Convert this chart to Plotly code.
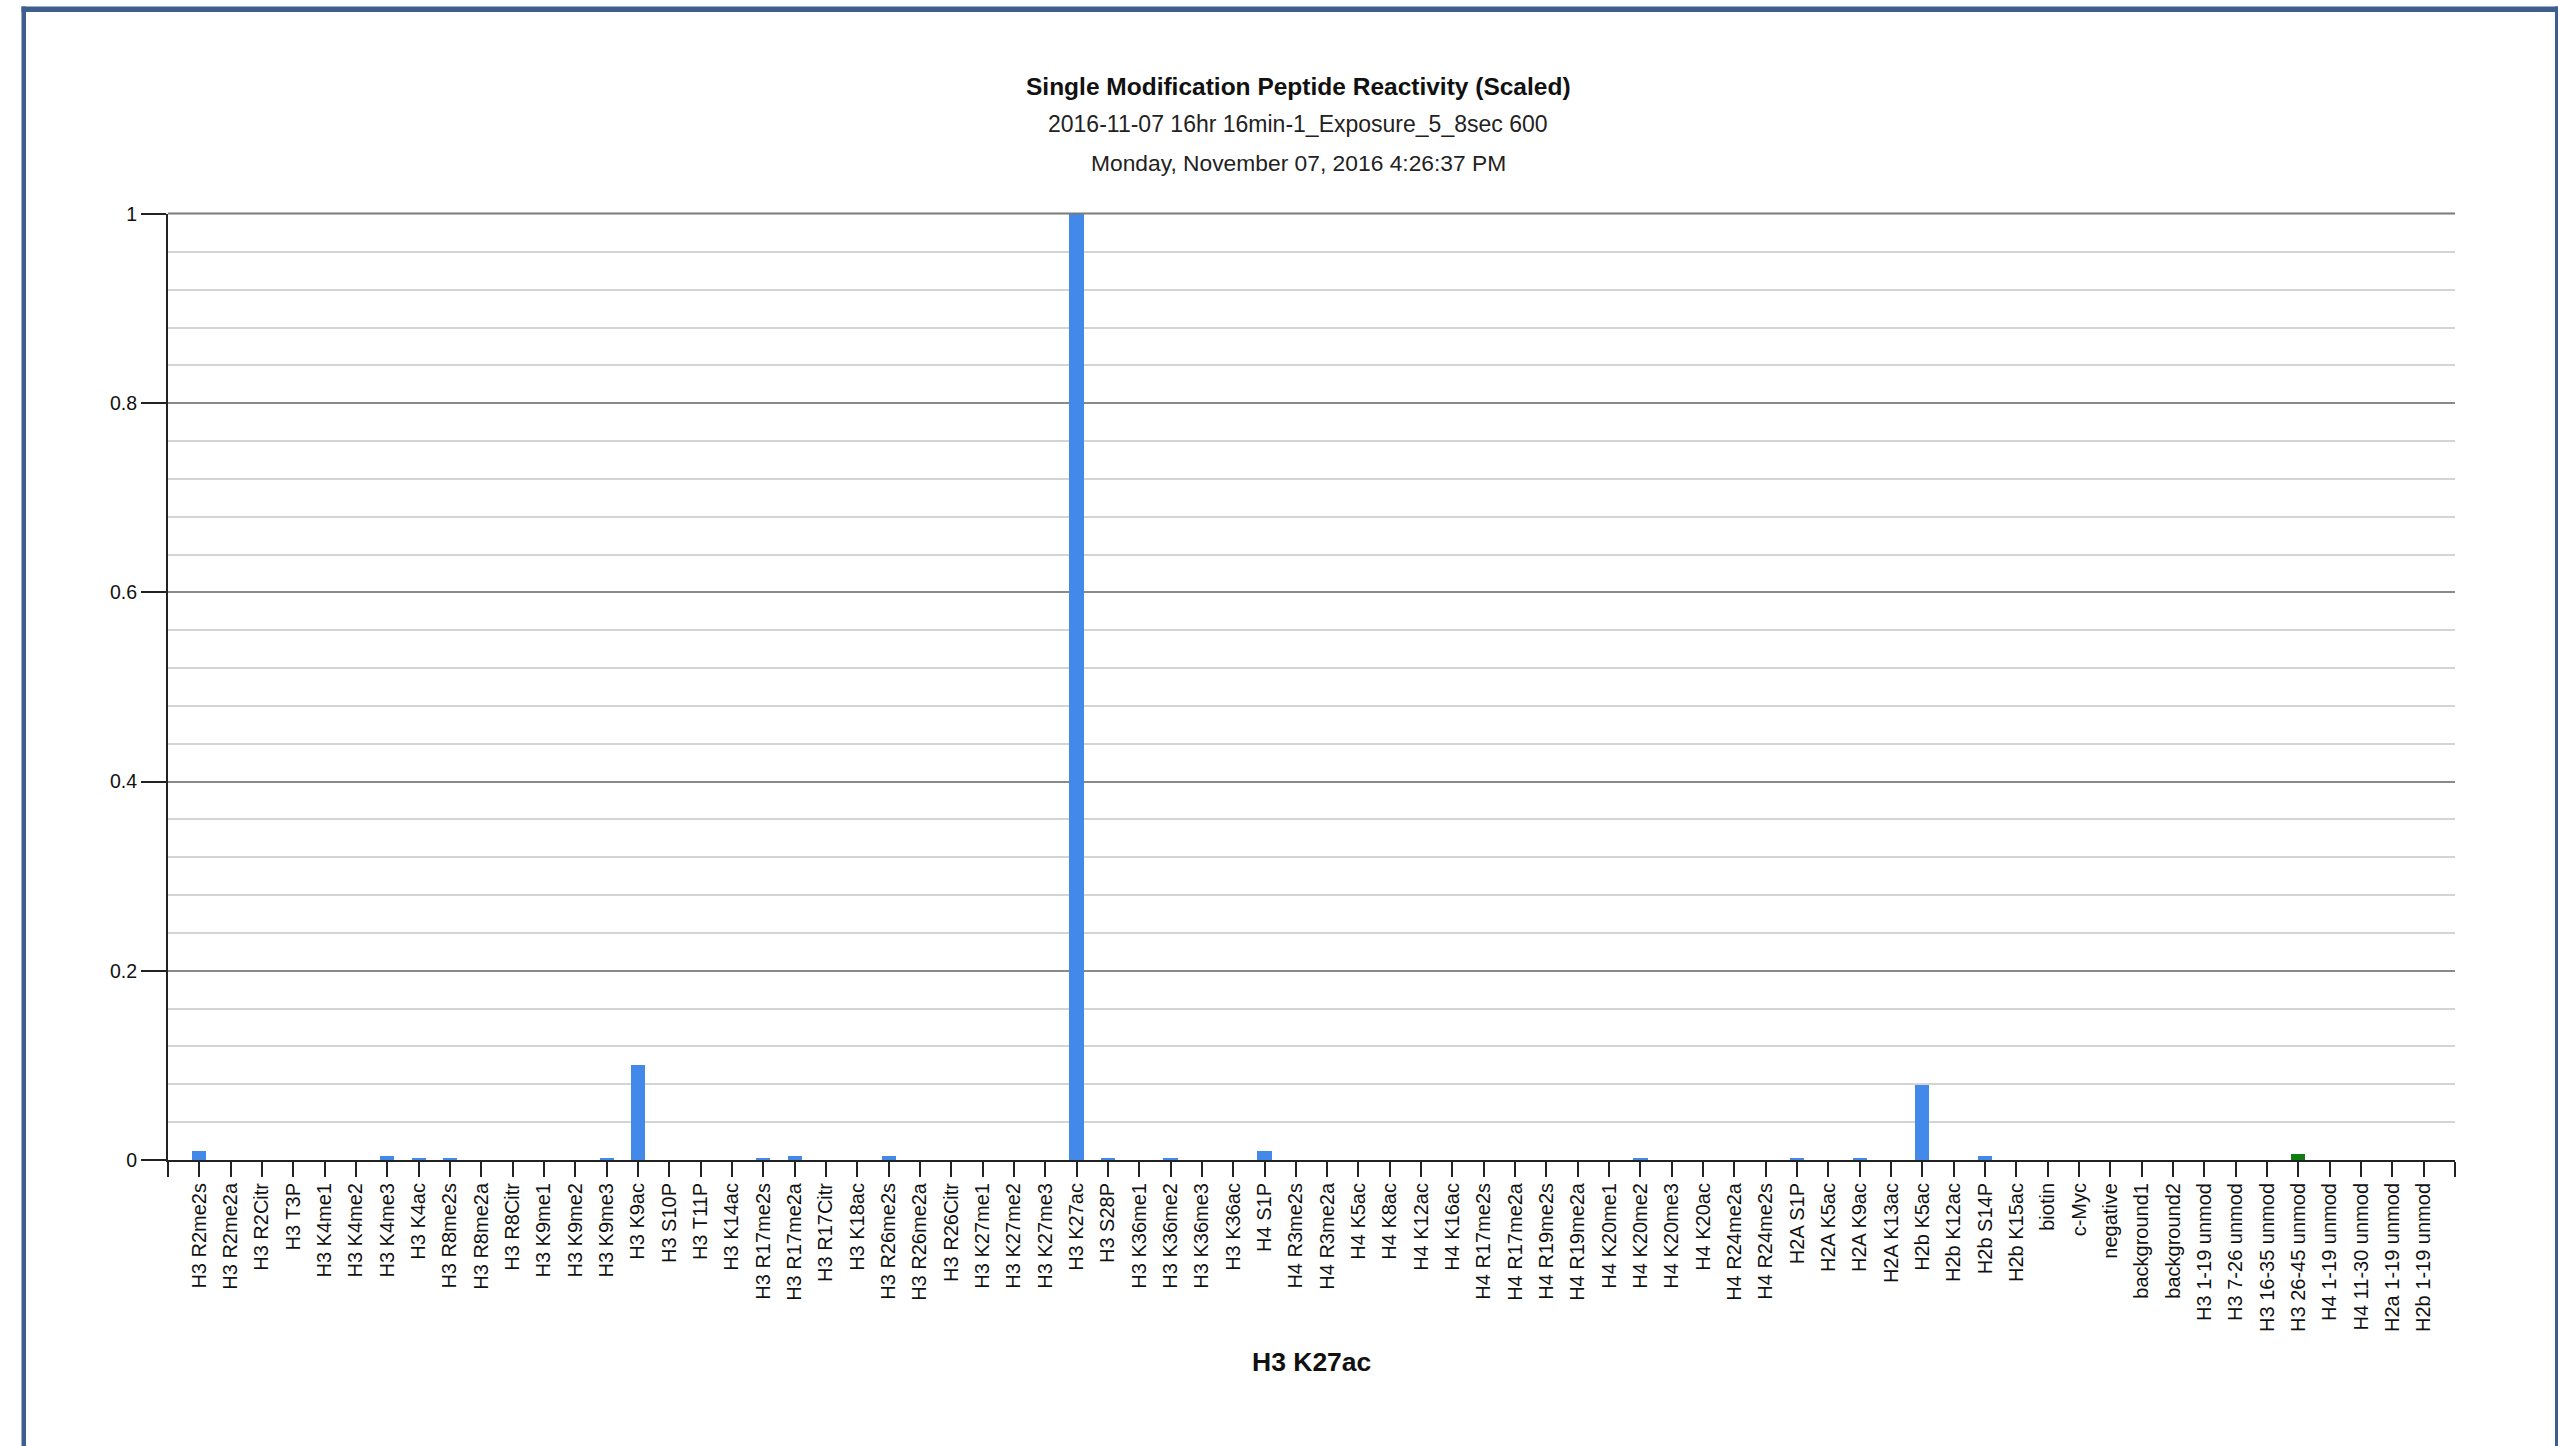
import plotly.graph_objects as go

categories = [
    "H3 R2me2s", "H3 R2me2a", "H3 R2Citr", "H3 T3P", "H3 K4me1", "H3 K4me2",
    "H3 K4me3", "H3 K4ac", "H3 R8me2s", "H3 R8me2a", "H3 R8Citr", "H3 K9me1",
    "H3 K9me2", "H3 K9me3", "H3 K9ac", "H3 S10P", "H3 T11P", "H3 K14ac",
    "H3 R17me2s", "H3 R17me2a", "H3 R17Citr", "H3 K18ac", "H3 R26me2s", "H3 R26me2a",
    "H3 R26Citr", "H3 K27me1", "H3 K27me2", "H3 K27me3", "H3 K27ac", "H3 S28P",
    "H3 K36me1", "H3 K36me2", "H3 K36me3", "H3 K36ac", "H4 S1P", "H4 R3me2s",
    "H4 R3me2a", "H4 K5ac", "H4 K8ac", "H4 K12ac", "H4 K16ac", "H4 R17me2s",
    "H4 R17me2a", "H4 R19me2s", "H4 R19me2a", "H4 K20me1", "H4 K20me2", "H4 K20me3",
    "H4 K20ac", "H4 R24me2a", "H4 R24me2s", "H2A S1P", "H2A K5ac", "H2A K9ac",
    "H2A K13ac", "H2b K5ac", "H2b K12ac", "H2b S14P", "H2b K15ac", "biotin",
    "c-Myc", "negative", "background1", "background2", "H3 1-19 unmod", "H3 7-26 unmod",
    "H3 16-35 unmod", "H3 26-45 unmod", "H4 1-19 unmod", "H4 11-30 unmod", "H2a 1-19 unmod", "H2b 1-19 unmod",
]

values = [
    0.010, 0.0, 0.0, 0.0, 0.0, 0.0,
    0.004, 0.002, 0.002, 0.0, 0.0, 0.0,
    0.0, 0.002, 0.100, 0.0, 0.0, 0.0,
    0.002, 0.004, 0.0, 0.0, 0.004, 0.0,
    0.0, 0.0, 0.0, 0.0, 1.000, 0.002,
    0.0, 0.002, 0.0, 0.0, 0.010, 0.0,
    0.0, 0.0, 0.0, 0.0, 0.0, 0.0,
    0.0, 0.0, 0.0, 0.0, 0.002, 0.0,
    0.0, 0.0, 0.0, 0.002, 0.0, 0.002,
    0.0, 0.079, 0.0, 0.004, 0.0, 0.0,
    0.0, 0.0, 0.0, 0.0, 0.0, 0.0,
    0.0, 0.006, 0.0, 0.0, 0.0, 0.0,
]

control_peptide = "H3 26-45 unmod"
y_ticks = [0, 0.2, 0.4, 0.6, 0.8, 1]

title_text = "Single Modification Peptide Reactivity (Scaled)"
subtitle_text = "2016-11-07 16hr 16min-1_Exposure_5_8sec 600"
date_text = "Monday, November 07, 2016 4:26:37 PM"
xaxis_title = "H3 K27ac"

BLUE = "#4289EA"
GREEN = "#0E7E12"
FRAME = "#3E5E8E"
MAJOR_GRID = "#8a8a8a"
FONT = "Liberation Sans, Arial, sans-serif"

W, H = 2558, 1446
L, R, T, B = 168, 2558 - 2455, 214, 1446 - 1160
PW, PH = W - L - R, H - T - B


def px_x(x):
    return (x - L) / PW


def px_y(y):
    return (H - B - y) / PH


idx = list(range(len(categories)))
colors = [GREEN if c == control_peptide else BLUE for c in categories]

fig = go.Figure()
fig.add_trace(go.Bar(
    x=idx, y=values, width=0.45,
    marker=dict(color=colors, line=dict(width=0)),
    hovertext=categories, showlegend=False,
))

tickvals = [-1] + idx + [len(categories)]
ticktext = [""] + categories + [""]

fig.update_layout(
    width=W, height=H,
    margin=dict(l=L, r=R, t=T, b=B, pad=0),
    paper_bgcolor="white", plot_bgcolor="white",
    font=dict(family=FONT, color="#111111", size=19),
    bargap=0,
    xaxis=dict(
        range=[-1, len(categories)],
        tickmode="array", tickvals=tickvals, ticktext=ticktext,
        tickangle=-90, tickfont=dict(size=20, color="#111111", family=FONT),
        ticks="outside", ticklen=15, tickwidth=2, tickcolor="#222222",
        ticklabelstandoff=-2,
        showline=True, linecolor="#222222", linewidth=2,
        showgrid=False, zeroline=False, fixedrange=True,
    ),
    yaxis=dict(
        range=[0, 1],
        tickmode="array", tickvals=y_ticks,
        tickfont=dict(size=19.5, color="#111111", family=FONT),
        ticks="outside", ticklen=25, tickwidth=1.5, tickcolor="#222222",
        showline=True, linecolor="#222222", linewidth=2,
        showgrid=True, gridcolor=MAJOR_GRID, gridwidth=1.5,
        zeroline=False,
        minor=dict(dtick=0.04, tick0=0, showgrid=True, gridcolor="#d4d4d4", gridwidth=1.5, ticks=""),
        fixedrange=True,
    ),
)

annotations = [
    dict(text="<b>" + title_text + "</b>", x=px_x(1298), y=px_y(86), font=dict(size=24.5, family=FONT, color="#111111")),
    dict(text=subtitle_text, x=px_x(1298), y=px_y(124), font=dict(size=23, family=FONT, color="#222222")),
    dict(text=date_text, x=px_x(1298), y=px_y(163), font=dict(size=22.8, family=FONT, color="#222222")),
    dict(text="<b>" + xaxis_title + "</b>", x=0.5, y=px_y(1362), font=dict(size=26.5, family=FONT, color="#111111")),
]
for a in annotations:
    a.update(xref="paper", yref="paper", xanchor="center", yanchor="middle", showarrow=False)
fig.update_layout(annotations=annotations)

# page frame (left, top, right borders)
frame = [
    (21.5, 6.5, 26, H + 5),
    (21.5, 6.5, W + 5, 12),
    (2555, 6.5, W + 5, H + 5),
]
shapes = [
    dict(type="rect", xref="paper", yref="paper",
         x0=px_x(x0), x1=px_x(x1), y0=px_y(y1), y1=px_y(y0),
         fillcolor=FRAME, line=dict(width=0), layer="above")
    for (x0, y0, x1, y1) in frame
]
# major gridline at the top of the value range
shapes.append(dict(type="line", xref="paper", yref="paper", x0=0, x1=1, y0=1.0005, y1=1.0005,
                   line=dict(color="#7a7a7a", width=2), layer="above"))
fig.update_layout(shapes=shapes)

fig.write_html("out.html", config={"displayModeBar": False},
               post_script="document.body.style.margin='0';document.body.style.overflow='hidden';")
